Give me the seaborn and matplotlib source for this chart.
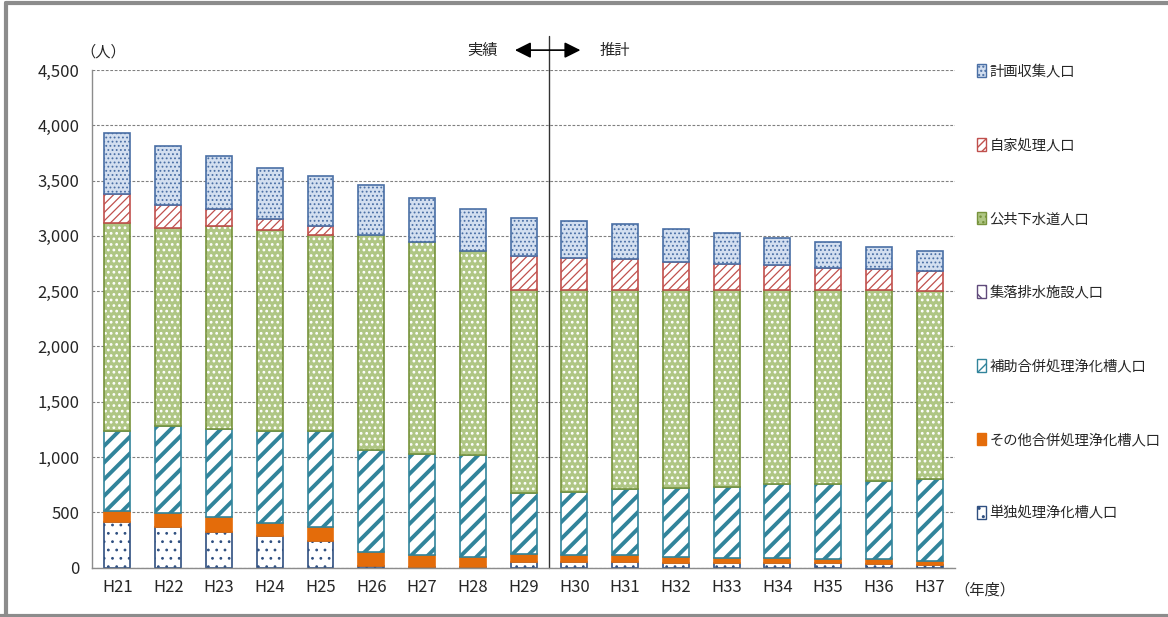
import numpy as np
import seaborn as sns
import matplotlib.pyplot as plt
from matplotlib.patches import Patch

# 年度
years = ["H21", "H22", "H23", "H24", "H25", "H26", "H27", "H28", "H29",
         "H30", "H31", "H32", "H33", "H34", "H35", "H36", "H37"]

# 人口 (人), bottom to top
tandoku = [414, 369, 324, 282, 240, 15, 5, 3, 50, 50, 50, 41, 38, 38, 38, 32, 25]
sonota = [100, 126, 130, 123, 123, 125, 105, 95, 69, 60, 60, 57, 48, 48, 36, 42, 36]
hojo = [723, 787, 801, 829, 871, 920, 916, 919, 552, 573, 597, 621, 645, 666, 684, 708, 736]
shuraku = [0] * 17
koukyou = [1881, 1790, 1830, 1818, 1773, 1949, 1914, 1847, 1838, 1826, 1802, 1790, 1778, 1757, 1751, 1727, 1703]
jika = [259, 203, 156, 99, 81, 0, 0, 0, 310, 289, 278, 256, 235, 223, 202, 187, 178]
keikaku = [554, 536, 482, 467, 455, 447, 404, 380, 347, 338, 316, 293, 280, 245, 235, 205, 186]

sns.set_style("white")
plt.rcParams['font.family'] = ['Noto Sans CJK JP', 'DejaVu Sans']

fig = plt.figure(figsize=(11.68, 6.17), dpi=100)
ax = fig.add_axes([0.0788, 0.0802, 0.7389, 0.8063])

# label, values, face, edge, hatch, hatch width, white hatch?
layers = [
    ("単独処理浄化槽人口", tandoku, "white", "#2F4F80", "..", 0.8, False),
    ("その他合併処理浄化槽人口", sonota, "#E46C0A", "#E46C0A", None, 1.0, False),
    ("補助合併処理浄化槽人口", hojo, "white", "#31849B", "//", 2.8, False),
    ("集落排水施設人口", shuraku, "white", "#604A7B", "\\\\", 1.5, False),
    ("公共下水道人口", koukyou, "#AFC684", "#77933C", "...", 1.2, True),
    ("自家処理人口", jika, "white", "#C0504D", "////", 0.9, False),
    ("計画収集人口", keikaku, "#D3DFF0", "#4A6FA5", "....", 0.8, False),
]

bottom = np.zeros(len(years))
handles = []
for label, vals, face, edge, hatch, hlw, white_hatch in layers:
    vals = np.array(vals, dtype=float)
    n0 = len(ax.patches)
    if white_hatch:
        # green fill with white dots, then the outline on top
        sns.barplot(x=years, y=vals, bottom=bottom, ax=ax, width=0.51,
                    errorbar=None, color=face, saturation=1, facecolor=face,
                    edgecolor="white", hatch=hatch, linewidth=0)
        sns.barplot(x=years, y=vals, bottom=bottom, ax=ax, width=0.51,
                    errorbar=None, color=edge, saturation=1, facecolor="none",
                    edgecolor=edge, linewidth=1.2)
    else:
        sns.barplot(x=years, y=vals, bottom=bottom, ax=ax, width=0.51,
                    errorbar=None, color=face, saturation=1, facecolor=face,
                    edgecolor=edge, hatch=hatch, linewidth=1.2)
    for p in ax.patches[n0:]:
        if p.get_height() == 0:
            p.set_visible(False)
        if hasattr(p, "set_hatch_linewidth"):
            p.set_hatch_linewidth(hlw)
    bottom = bottom + vals
    h = Patch(facecolor=face, edgecolor=edge, hatch=hatch, linewidth=1.0, label=label)
    handles.append(h)

ax.set_xlim(-0.5, len(years) - 0.5)
ax.set_ylim(0, 4500)
ax.set_yticks(np.arange(0, 4501, 500))
ax.set_yticklabels([f"{v:,}" for v in range(0, 4501, 500)])
ax.set_xlabel("")
ax.set_ylabel("")
ax.yaxis.grid(True, linestyle=(0, (2.5, 1.5)), color="#808080", linewidth=0.8)
ax.set_axisbelow(True)
for s in ["top", "right"]:
    ax.spines[s].set_visible(False)
for s in ["left", "bottom"]:
    ax.spines[s].set_color("#8C8C8C")
    ax.spines[s].set_linewidth(1.0)
ax.tick_params(axis="y", direction="out", length=5, color="#8C8C8C",
               labelsize=12, pad=4)
ax.tick_params(axis="x", which="major", length=0, labelsize=12, pad=8)
ax.set_xticks(np.arange(-0.5, len(years)), minor=True)
ax.tick_params(axis="x", which="minor", direction="out", length=5, color="#8C8C8C")

# 実績 / 推計 divider
ax.axvline(8.5, ymin=0, ymax=1.068, color="#333333", linewidth=1.0, clip_on=False)
ax.annotate("", xy=(9.12, 4680), xytext=(7.83, 4680),
            arrowprops=dict(arrowstyle="<|-|>", color="black", lw=1.2,
                            mutation_scale=24, shrinkA=0, shrinkB=0),
            annotation_clip=False)
ax.text(7.2, 4680, "実績", ha="center", va="center", fontsize=11, clip_on=False)
ax.text(9.79, 4680, "推計", ha="center", va="center", fontsize=11, clip_on=False)

fig.text(103 / 1168, 1 - 52 / 617, "（人）", ha="center", va="center", fontsize=11)
fig.text(985 / 1168, 1 - 590 / 617, "（年度）", ha="center", va="center", fontsize=11)

leg = fig.legend(handles=handles[::-1], loc="upper left", bbox_to_anchor=(0.832, 0.905),
                 frameon=False, fontsize=10.3, handlelength=0.6, handleheight=1.0,
                 handletextpad=0.25, labelspacing=4.15, borderaxespad=0)

# outer frame
for xs, ys in [([0.005, 0.005], [0, 0.995]), ([0.005, 1], [0.995, 0.995]),
               ([0, 1], [0.002, 0.002])]:
    fig.add_artist(plt.Line2D(xs, ys, color="#8C8C8C", linewidth=3,
                              transform=fig.transFigure))

fig.savefig("out.png", dpi=100)
